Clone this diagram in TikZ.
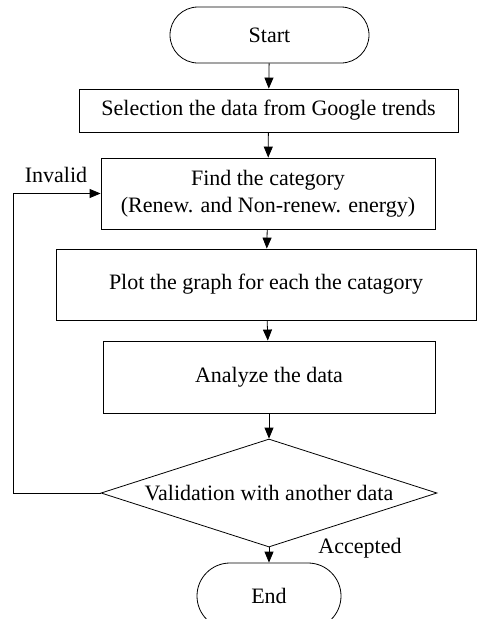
\documentclass[tikz,border=0pt]{standalone}
\usepackage{fontspec}
\setmainfont{Liberation Serif}
\usetikzlibrary{arrows.meta}
\usetikzlibrary{shapes.geometric, shapes.misc}

\tikzset{
    process/.style={draw, line width=0.8pt, inner sep=0pt, align=center},
    terminal/.style={draw, line width=0.8pt, rounded rectangle, inner sep=0pt},
    decision/.style={draw, line width=0.8pt, diamond, aspect=3.1, inner sep=0pt},
    arrow/.style={line width=0.8pt, -{Triangle[length=11pt, width=9pt]}}
}

\begin{document}
\begin{tikzpicture}[x=1pt, y=-1pt, font=\fontsize{22}{27}\selectfont]

\useasboundingbox (0,0) rectangle (480,619);

% blocks, top to bottom
\node[terminal, minimum width=199pt, minimum height=56pt] (start) at (269.5,35) {Start};
\node[process, minimum width=379pt, minimum height=43pt] (select) at (268.5,110.5) {Selection the data from Google trends};
\node[process, minimum width=334pt, minimum height=71pt] (find) at (268,193.5) {Find the category\\(Renew. and Non-renew. energy)};
\node[process, minimum width=420pt, minimum height=71pt] (plot) at (266,284.5) {Plot the graph for each the catagory};
\node[process, minimum width=332pt, minimum height=72pt] (analyze) at (269,377) {Analyze the data};
\node[decision, minimum width=336pt, minimum height=108pt] (check) at (269,493) {Validation with another data};
\node[terminal, minimum width=144pt, minimum height=66pt] (end) at (269,596) {End};

% labels on the two exits
\node (invalid) at (56,175) {Invalid};
\node (accepted) at (360,548) {Accepted};
\coordinate (loop) at (13,193.5);

% connectors
\draw[arrow] (start) -- (select);
\draw[arrow] (select) -- (find);
\draw[arrow] (find) -- (plot);
\draw[arrow] (plot) -- (analyze);
\draw[arrow] (analyze) -- (check);
\draw[arrow] (check) -- (end);
\draw[arrow] (check.west) -| (loop) -- (find.west);

\end{tikzpicture}
\end{document}
